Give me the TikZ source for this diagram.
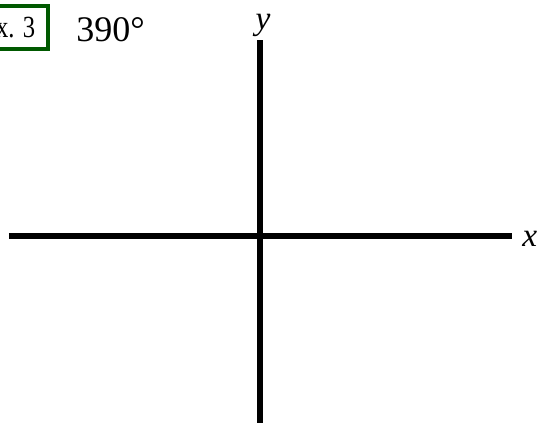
\documentclass[tikz,border=0pt]{standalone}
\usepackage{fontspec}
\usepackage{graphicx}
\setmainfont{Liberation Serif}
\usetikzlibrary{positioning}

\begin{document}
\begin{tikzpicture}[
    x=0.02cm, y=0.02cm,
    axis/.style={line width=3.4pt, black},
    exbox/.style={draw=green!35!black, line width=2.5pt, inner xsep=7.5pt,
        minimum height=24.5pt, font=\fontsize{17.5}{19}\selectfont},
    axlabel/.style={font=\fontsize{19}{21}\selectfont\itshape}
]
    \useasboundingbox (0,0) rectangle (539,423);

    % --- Example tag and angle ---
    \node[exbox, anchor=east] (tag) at (50.5,395.5) {\scalebox{0.8}[1]{Ex. 3}};
    \node[anchor=base west, inner sep=0pt, font=\fontsize{20.5}{23}\selectfont] (angle) at (76,381) {390°};

    % --- Axes ---
    \coordinate (xl) at (9,187);
    \coordinate (xr) at (512,187);
    \coordinate (yb) at (260,0);
    \coordinate (yt) at (260,383);
    \draw[axis] (xl) -- (xr);
    \draw[axis] (yb) -- (yt);
    \node[axlabel, anchor=base west, inner sep=0pt] (xlab) at (522,176) {x};
    \node[axlabel, anchor=base, inner sep=0pt] (ylab) at (263,393) {y};

\end{tikzpicture}
\end{document}
